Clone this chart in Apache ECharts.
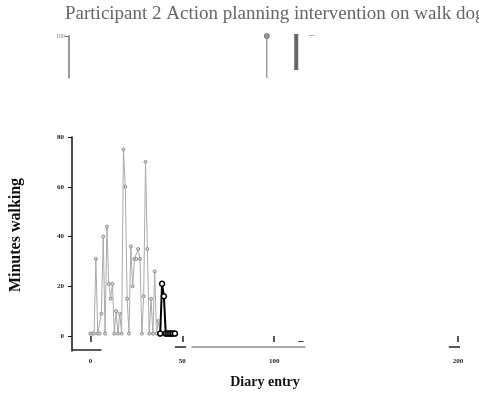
<!DOCTYPE html>
<html><head><meta charset="utf-8">
<script src="https://cdn.jsdelivr.net/npm/echarts@6/dist/echarts.min.js"></script>
<style>html,body{margin:0;padding:0;background:#fff}#c{width:479px;height:394px}</style>
</head><body><div id="c"></div>
<script>
// Baseline (gray) diary entries 0..38, minutes walking
const baselineX = [0,1,2,3,4,5,6,7,8,9,10,11,12,13,14,15,16,17,18,19,20,21,22,23,24,25,26,27,28,29,30,31,32,33,34,35,36,37,38];
const baselineY = [1,1,1,31,1,1,9,40,1,44,21,15,21,1,10,1,9,1,75,60,15,1,36,20,31,31,35,31,1,16,70,35,1,15,1,26,1,6,1];
// Intervention (black) entries
const interX = [38,39,40,41,42,43,44,45,46];
const interY = [1,21,16,1,1,1,1,1,1];
// Top fragment panel
const topStem = [[96,0],[96,100]];
const topBar = [[112,19],[112,107]];
const topDash = [[119,102],[122,102]];
// Tick labels
const xTicks = [0,50,100,200];
const yTicks = [0,20,40,60,80];

const serif = '"Liberation Serif","DejaVu Serif",serif';
const chart = echarts.init(document.getElementById('c'));
const zip = (a,b)=>a.map((v,i)=>[v,b[i]]);
chart.setOption({
  animation:false,
  title:{text:'Participant 2 Action planning intervention on walk dog',left:60,top:0,
    textStyle:{fontFamily:serif,fontSize:19,fontWeight:'normal',color:'#666'}},
  grid:[
    {left:72,width:386,top:137,height:214},
    {left:69,width:389,top:36,height:42}
  ],
  xAxis:[
    {type:'value',gridIndex:0,min:-10,max:200,
     name:'Diary entry',nameLocation:'middle',nameGap:24,
     nameTextStyle:{fontFamily:serif,fontSize:14,fontWeight:'bold',color:'#111'},
     axisLine:{show:false},splitLine:{show:false},
     axisTick:{show:true,length:6,customValues:xTicks,lineStyle:{color:'#222',width:1.5}},
     axisLabel:{customValues:xTicks,fontSize:7,fontWeight:'bold',color:'#222',margin:7,fontFamily:serif}},
    {type:'value',gridIndex:1,min:-11.6,max:200,show:false}
  ],
  yAxis:[
    {type:'value',gridIndex:0,min:-6,max:80,
     name:'Minutes walking',nameLocation:'middle',nameGap:48,
     nameTextStyle:{fontFamily:serif,fontSize:16,fontWeight:'bold',color:'#111',padding:[0,0,0,18]},
     axisLine:{show:true,onZero:false,lineStyle:{color:'#111',width:1.5}},
     axisTick:{show:true,length:4,customValues:yTicks,lineStyle:{color:'#111'}},
     splitLine:{show:false},
     axisLabel:{customValues:yTicks,fontSize:7,fontWeight:'bold',color:'#222',margin:8,fontFamily:serif}},
    {type:'value',gridIndex:1,min:0,max:100,
     axisLine:{show:true,onZero:false,lineStyle:{color:'#777',width:1.5}},
     axisTick:{show:true,length:4,customValues:[100],lineStyle:{color:'#777'}},
     splitLine:{show:false},
     axisLabel:{customValues:[100],fontSize:6,color:'#777',margin:4,fontFamily:serif}}
  ],
  series:[
    {type:'line',xAxisIndex:0,yAxisIndex:0,data:[[-10,-5.6],[6,-5.6]],symbol:'none',
     lineStyle:{color:'#222',width:1.5},silent:true},
    {type:'line',xAxisIndex:0,yAxisIndex:0,data:[[55,-4.4],[117,-4.4]],symbol:'none',
     lineStyle:{color:'#555',width:1.2},silent:true},
    {type:'line',xAxisIndex:0,yAxisIndex:0,data:[[46,-4.4],[52,-4.4]],symbol:'none',
     lineStyle:{color:'#222',width:1.5},silent:true},
    {type:'line',xAxisIndex:0,yAxisIndex:0,data:[[195,-4.4],[204,-4.4]],symbol:'none',
     lineStyle:{color:'#222',width:1.5},silent:true},
    {type:'line',xAxisIndex:0,yAxisIndex:0,data:[[113,-2.2],[116,-2.2]],symbol:'none',
     lineStyle:{color:'#444',width:1},silent:true},
    {type:'line',xAxisIndex:0,yAxisIndex:0,data:zip(baselineX,baselineY),
     symbol:'circle',symbolSize:3,showAllSymbol:true,
     itemStyle:{color:'#ddd',borderColor:'#888',borderWidth:1},
     lineStyle:{color:'#aaa',width:1}},
    {type:'line',xAxisIndex:0,yAxisIndex:0,data:zip(interX,interY),
     symbol:'circle',symbolSize:5,showAllSymbol:true,
     itemStyle:{color:'#fff',borderColor:'#000',borderWidth:1.5},
     lineStyle:{color:'#000',width:2}},
    {type:'line',xAxisIndex:1,yAxisIndex:1,data:topStem.map((p,i)=>({value:p,symbol:i? 'circle':'none'})),
     symbolSize:5,itemStyle:{color:'#999',borderColor:'#777'},lineStyle:{color:'#888',width:1.2}},
    {type:'line',xAxisIndex:1,yAxisIndex:1,data:topBar,symbol:'none',lineStyle:{color:'#666',width:4}},
    {type:'line',xAxisIndex:1,yAxisIndex:1,data:topDash,symbol:'none',lineStyle:{color:'#999',width:1.5}}
  ]
});
</script></body></html>
